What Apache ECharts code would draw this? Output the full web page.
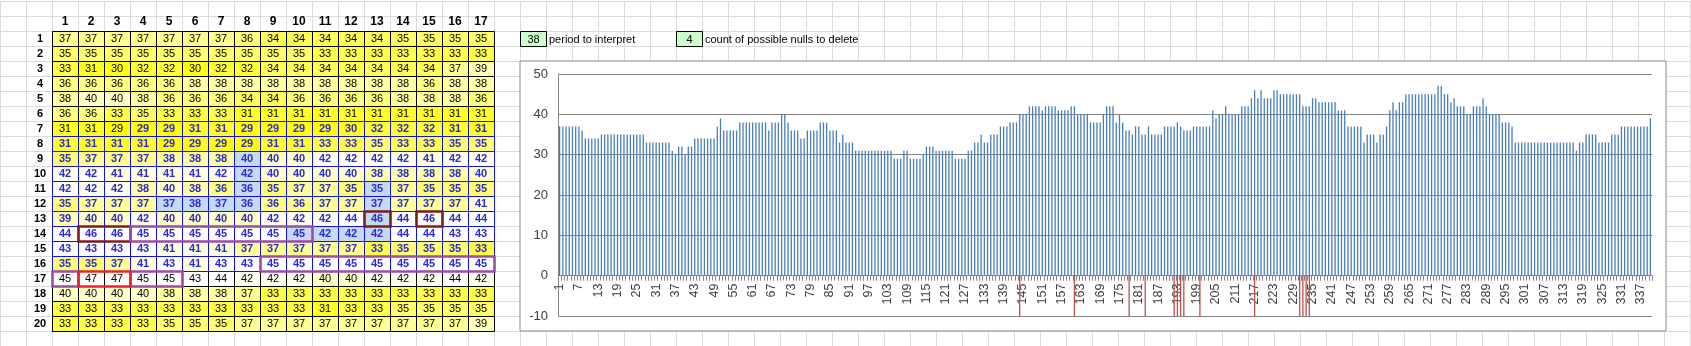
<!DOCTYPE html>
<html>
<head>
<meta charset="utf-8">
<script src="https://cdn.jsdelivr.net/npm/echarts@6/dist/echarts.min.js"></script>
<style>
  html, body { margin: 0; padding: 0; background: #ffffff; }
  #chart { width: 1691px; height: 346px; }
</style>
</head>
<body>
<div id="chart"></div>
<script>
// ---- sheet data: 20 rows x 17 columns, read row by row ----
const columnLabels = ['1','2','3','4','5','6','7','8','9','10','11','12','13','14','15','16','17'];
const rowLabels = ['1','2','3','4','5','6','7','8','9','10','11','12','13','14','15','16','17','18','19','20'];

const row01 = [37,37,37,37,37,37,37,36,34,34,34,34,34,35,35,35,35];
const row02 = [35,35,35,35,35,35,35,35,35,35,33,33,33,33,33,33,33];
const row03 = [33,31,30,32,32,30,32,32,34,34,34,34,34,34,34,37,39];
const row04 = [36,36,36,36,36,38,38,38,38,38,38,38,38,38,36,38,38];
const row05 = [38,40,40,38,36,36,36,34,34,36,36,36,36,38,38,38,36];
const row06 = [36,36,33,35,33,33,33,31,31,31,31,31,31,31,31,31,31];
const row07 = [31,31,29,29,29,31,31,29,29,29,29,30,32,32,32,31,31];
const row08 = [31,31,31,31,29,29,29,29,31,31,33,33,35,33,33,35,35];
const row09 = [35,37,37,37,38,38,38,40,40,40,42,42,42,42,41,42,42];
const row10 = [42,42,41,41,41,41,42,42,40,40,40,40,38,38,38,38,40];
const row11 = [42,42,42,38,40,38,36,36,35,37,37,35,35,37,35,35,35];
const row12 = [35,37,37,37,37,38,37,36,36,36,37,37,37,37,37,37,41];
const row13 = [39,40,40,42,40,40,40,40,42,42,42,44,46,44,46,44,44];
const row14 = [44,46,46,45,45,45,45,45,45,45,42,42,42,44,44,43,43];
const row15 = [43,43,43,43,41,41,41,37,37,37,37,37,33,35,35,35,33];
const row16 = [35,35,37,41,43,41,43,43,45,45,45,45,45,45,45,45,45];
const row17 = [45,47,47,45,45,43,44,42,42,42,40,40,42,42,42,44,42];
const row18 = [40,40,40,40,38,38,38,37,33,33,33,33,33,33,33,33,33];
const row19 = [33,33,33,33,33,33,33,33,33,33,31,33,33,35,35,35,35];
const row20 = [33,33,33,33,35,35,35,37,37,37,37,37,37,37,37,37,39];

// 1-based positions in the flattened series
const flaggedPositions = [144,161,178,183,192,193,194,195,200,217,231,232,233,234];
const interpretRange = [106, 272];
const periodToInterpret = 38;
const nullsToDelete = 4;
const nullMarkValue = -10;

// value axis of the bar plot
const yMin = -10, yMax = 50, yStep = 10;

// outlined runs: [row, first column, last column, kind]
const highlightBoxes = [
  [14, 2, 3, 'max'],
  [13, 13, 13, 'max'],
  [13, 15, 15, 'max'],
  [14, 4, 10, 'run'],
  [16, 9, 17, 'run'],
  [17, 1, 1, 'run'],
  [17, 4, 5, 'run'],
  [17, 2, 3, 'peak']
];

// ---- derived tables ----
const sheetRows = [row01,row02,row03,row04,row05,row06,row07,row08,row09,row10,
                   row11,row12,row13,row14,row15,row16,row17,row18,row19,row20];
const seriesValues = sheetRows.flat();
const positionLabels = seriesValues.map((_, i) => String(i + 1));
const flaggedSet = new Set(flaggedPositions);
const markerValues = seriesValues.map((_, i) => flaggedSet.has(i + 1) ? nullMarkValue : '-');

const cellData = [];
sheetRows.forEach((row, r) => {
  row.forEach((v, c) => cellData.push([c, r, v, r * columnLabels.length + c + 1]));
});

const boxColors = { max: '#7B1E1E', run: '#9B4DA6', peak: '#E8262B' };
const sheetFont = '"Liberation Sans", Arial, sans-serif';
const chartFont = '"Liberation Sans", Arial, sans-serif';
const axisGray = '#868686';

// plot area of the bar chart
const plotTop = 74, plotHeight = 242;
// lift the category axis from the bottom edge up to the zero line
const zeroOffset = -plotHeight * (0 - yMin) / (yMax - yMin);

// yellow-to-white colour scale of the table
function scaleColor(v) {
  const t = Math.max(0, Math.min(1, (v - 29) / (43 - 29)));
  return 'rgb(255,255,' + Math.round(t * 255) + ')';
}

function renderCell(params, api) {
  const col = api.value(0), row = api.value(1), v = api.value(2), pos = api.value(3);
  const center = api.coord([col, row]);
  const size = api.size([1, 1]);
  const x = Math.round(center[0] - size[0] / 2) + 0.5;
  const y = Math.round(center[1] - size[1] / 2) + 0.5;
  const inRange = pos >= interpretRange[0] && pos <= interpretRange[1];
  const fill = flaggedSet.has(pos) ? '#C5D9F1' : scaleColor(v);
  return {
    type: 'group',
    children: [
      {
        type: 'rect',
        shape: { x: x, y: y, width: Math.round(size[0]), height: Math.round(size[1]) },
        style: { fill: fill, stroke: inRange ? '#1010F0' : '#000000', lineWidth: 1 },
        z2: inRange ? 2 : 1
      },
      {
        type: 'text',
        style: {
          text: String(v), x: center[0], y: center[1] + 0.5,
          align: 'center', verticalAlign: 'middle',
          fill: inRange ? '#2A2AD8' : '#000000',
          font: (inRange ? 'bold ' : '') + '11px ' + sheetFont
        },
        z2: 5
      }
    ]
  };
}

function renderBox(params, api) {
  const b = highlightBoxes[params.dataIndex];
  const size = api.size([1, 1]);
  const left = api.coord([b[1] - 1, b[0] - 1]);
  const right = api.coord([b[2] - 1, b[0] - 1]);
  const x0 = Math.round(left[0] - size[0] / 2) + 0.5;
  const x1 = Math.round(right[0] + size[0] / 2) + 0.5;
  const y0 = Math.round(left[1] - size[1] / 2) + 0.5;
  return {
    type: 'rect',
    shape: { x: x0, y: y0, width: x1 - x0, height: Math.round(size[1]) },
    style: { fill: null, stroke: boxColors[b[3]], lineWidth: 2.6 },
    z2: 10
  };
}

const chart = echarts.init(document.getElementById('chart'), null, { renderer: 'canvas' });

chart.setOption({
  animation: false,
  backgroundColor: '#ffffff',
  grid: [
    // sheet gridlines
    { left: 0, top: 1, width: 1690, height: 345, z: 0 },
    // chart frame
    { left: 520, top: 61, width: 1146, height: 270, show: true, backgroundColor: '#ffffff',
      borderColor: '#898989', borderWidth: 1, z: 1 },
    // value table
    { left: 52, top: 31, width: 442, height: 300, z: 3 },
    // bar plot
    { left: 558, top: plotTop, width: 1094, height: plotHeight, z: 3 }
  ],
  xAxis: [
    { gridIndex: 0, type: 'value', min: 0, max: 1690, interval: 26, z: 0,
      axisLine: { show: false }, axisTick: { show: false }, axisLabel: { show: false },
      splitLine: { show: true, lineStyle: { color: '#DADCDD', width: 1 } } },
    { gridIndex: 1, type: 'value', show: false },
    { gridIndex: 2, type: 'category', data: columnLabels, position: 'top', z: 3,
      axisLine: { show: false }, axisTick: { show: false },
      axisLabel: { margin: 3, fontSize: 12, fontWeight: 'bold', color: '#000', fontFamily: sheetFont } },
    { gridIndex: 3, type: 'category', data: positionLabels, z: 3,
      offset: zeroOffset,
      axisLine: { show: true, onZero: false, lineStyle: { color: axisGray } },
      axisTick: { show: true, interval: 0, length: 5, lineStyle: { color: axisGray } },
      axisLabel: { interval: 5, rotate: 90, margin: 8, fontSize: 12.5, color: '#404040', fontFamily: chartFont },
      splitLine: { show: false } }
  ],
  yAxis: [
    { gridIndex: 0, type: 'value', min: 0, max: 345, interval: 15, inverse: true, z: 0,
      axisLine: { show: false }, axisTick: { show: false }, axisLabel: { show: false },
      splitLine: { show: true, lineStyle: { color: '#DADCDD', width: 1 } } },
    { gridIndex: 1, type: 'value', show: false },
    { gridIndex: 2, type: 'category', data: rowLabels, inverse: true, z: 3,
      axisLine: { show: false }, axisTick: { show: false },
      axisLabel: { margin: 12, align: 'center', fontSize: 11, fontWeight: 'bold', color: '#000', fontFamily: sheetFont } },
    { gridIndex: 3, type: 'value', min: yMin, max: yMax, interval: yStep, z: 3,
      axisLine: { show: true, lineStyle: { color: axisGray } },
      axisTick: { show: false },
      axisLabel: { margin: 10, fontSize: 13, color: '#404040', fontFamily: chartFont },
      splitLine: { show: true, lineStyle: { color: axisGray, width: 1 } } }
  ],
  series: [
    { type: 'custom', xAxisIndex: 2, yAxisIndex: 2, data: cellData, renderItem: renderCell,
      encode: { x: 0, y: 1 }, z: 4, silent: true },
    { type: 'custom', xAxisIndex: 2, yAxisIndex: 2,
      data: highlightBoxes.map(b => [b[1] - 1, b[0] - 1, b[2] - 1]),
      renderItem: renderBox, encode: { x: [0, 2], y: 1 }, z: 5, silent: true },
    { type: 'bar', xAxisIndex: 3, yAxisIndex: 3, data: seriesValues, barWidth: 1.3,
      barGap: '-100%', itemStyle: { color: '#4A7EBB' }, z: 4, silent: true },
    { type: 'bar', xAxisIndex: 3, yAxisIndex: 3, data: markerValues, barWidth: 1.3,
      barGap: '-100%', itemStyle: { color: '#C0504D' }, z: 4, silent: true }
  ],
  graphic: [
    { type: 'rect', z: 6, shape: { x: 520.5, y: 31.5, width: 26, height: 15 },
      style: { fill: '#CCFFCC', stroke: '#000', lineWidth: 1 } },
    { type: 'text', z: 7, style: { text: String(periodToInterpret), x: 533.5, y: 39.5,
      align: 'center', verticalAlign: 'middle', font: '11px ' + sheetFont, fill: '#000' } },
    { type: 'text', z: 7, style: { text: 'period to interpret', x: 549, y: 39.5,
      align: 'left', verticalAlign: 'middle', font: '11px ' + sheetFont, fill: '#000' } },
    { type: 'rect', z: 6, shape: { x: 676.5, y: 31.5, width: 26, height: 15 },
      style: { fill: '#CCFFCC', stroke: '#000', lineWidth: 1 } },
    { type: 'text', z: 7, style: { text: String(nullsToDelete), x: 689.5, y: 39.5,
      align: 'center', verticalAlign: 'middle', font: '11px ' + sheetFont, fill: '#000' } },
    { type: 'text', z: 7, style: { text: 'count of possible nulls to delete', x: 705, y: 39.5,
      align: 'left', verticalAlign: 'middle', font: '11px ' + sheetFont, fill: '#000' } }
  ]
});
</script>
</body>
</html>
